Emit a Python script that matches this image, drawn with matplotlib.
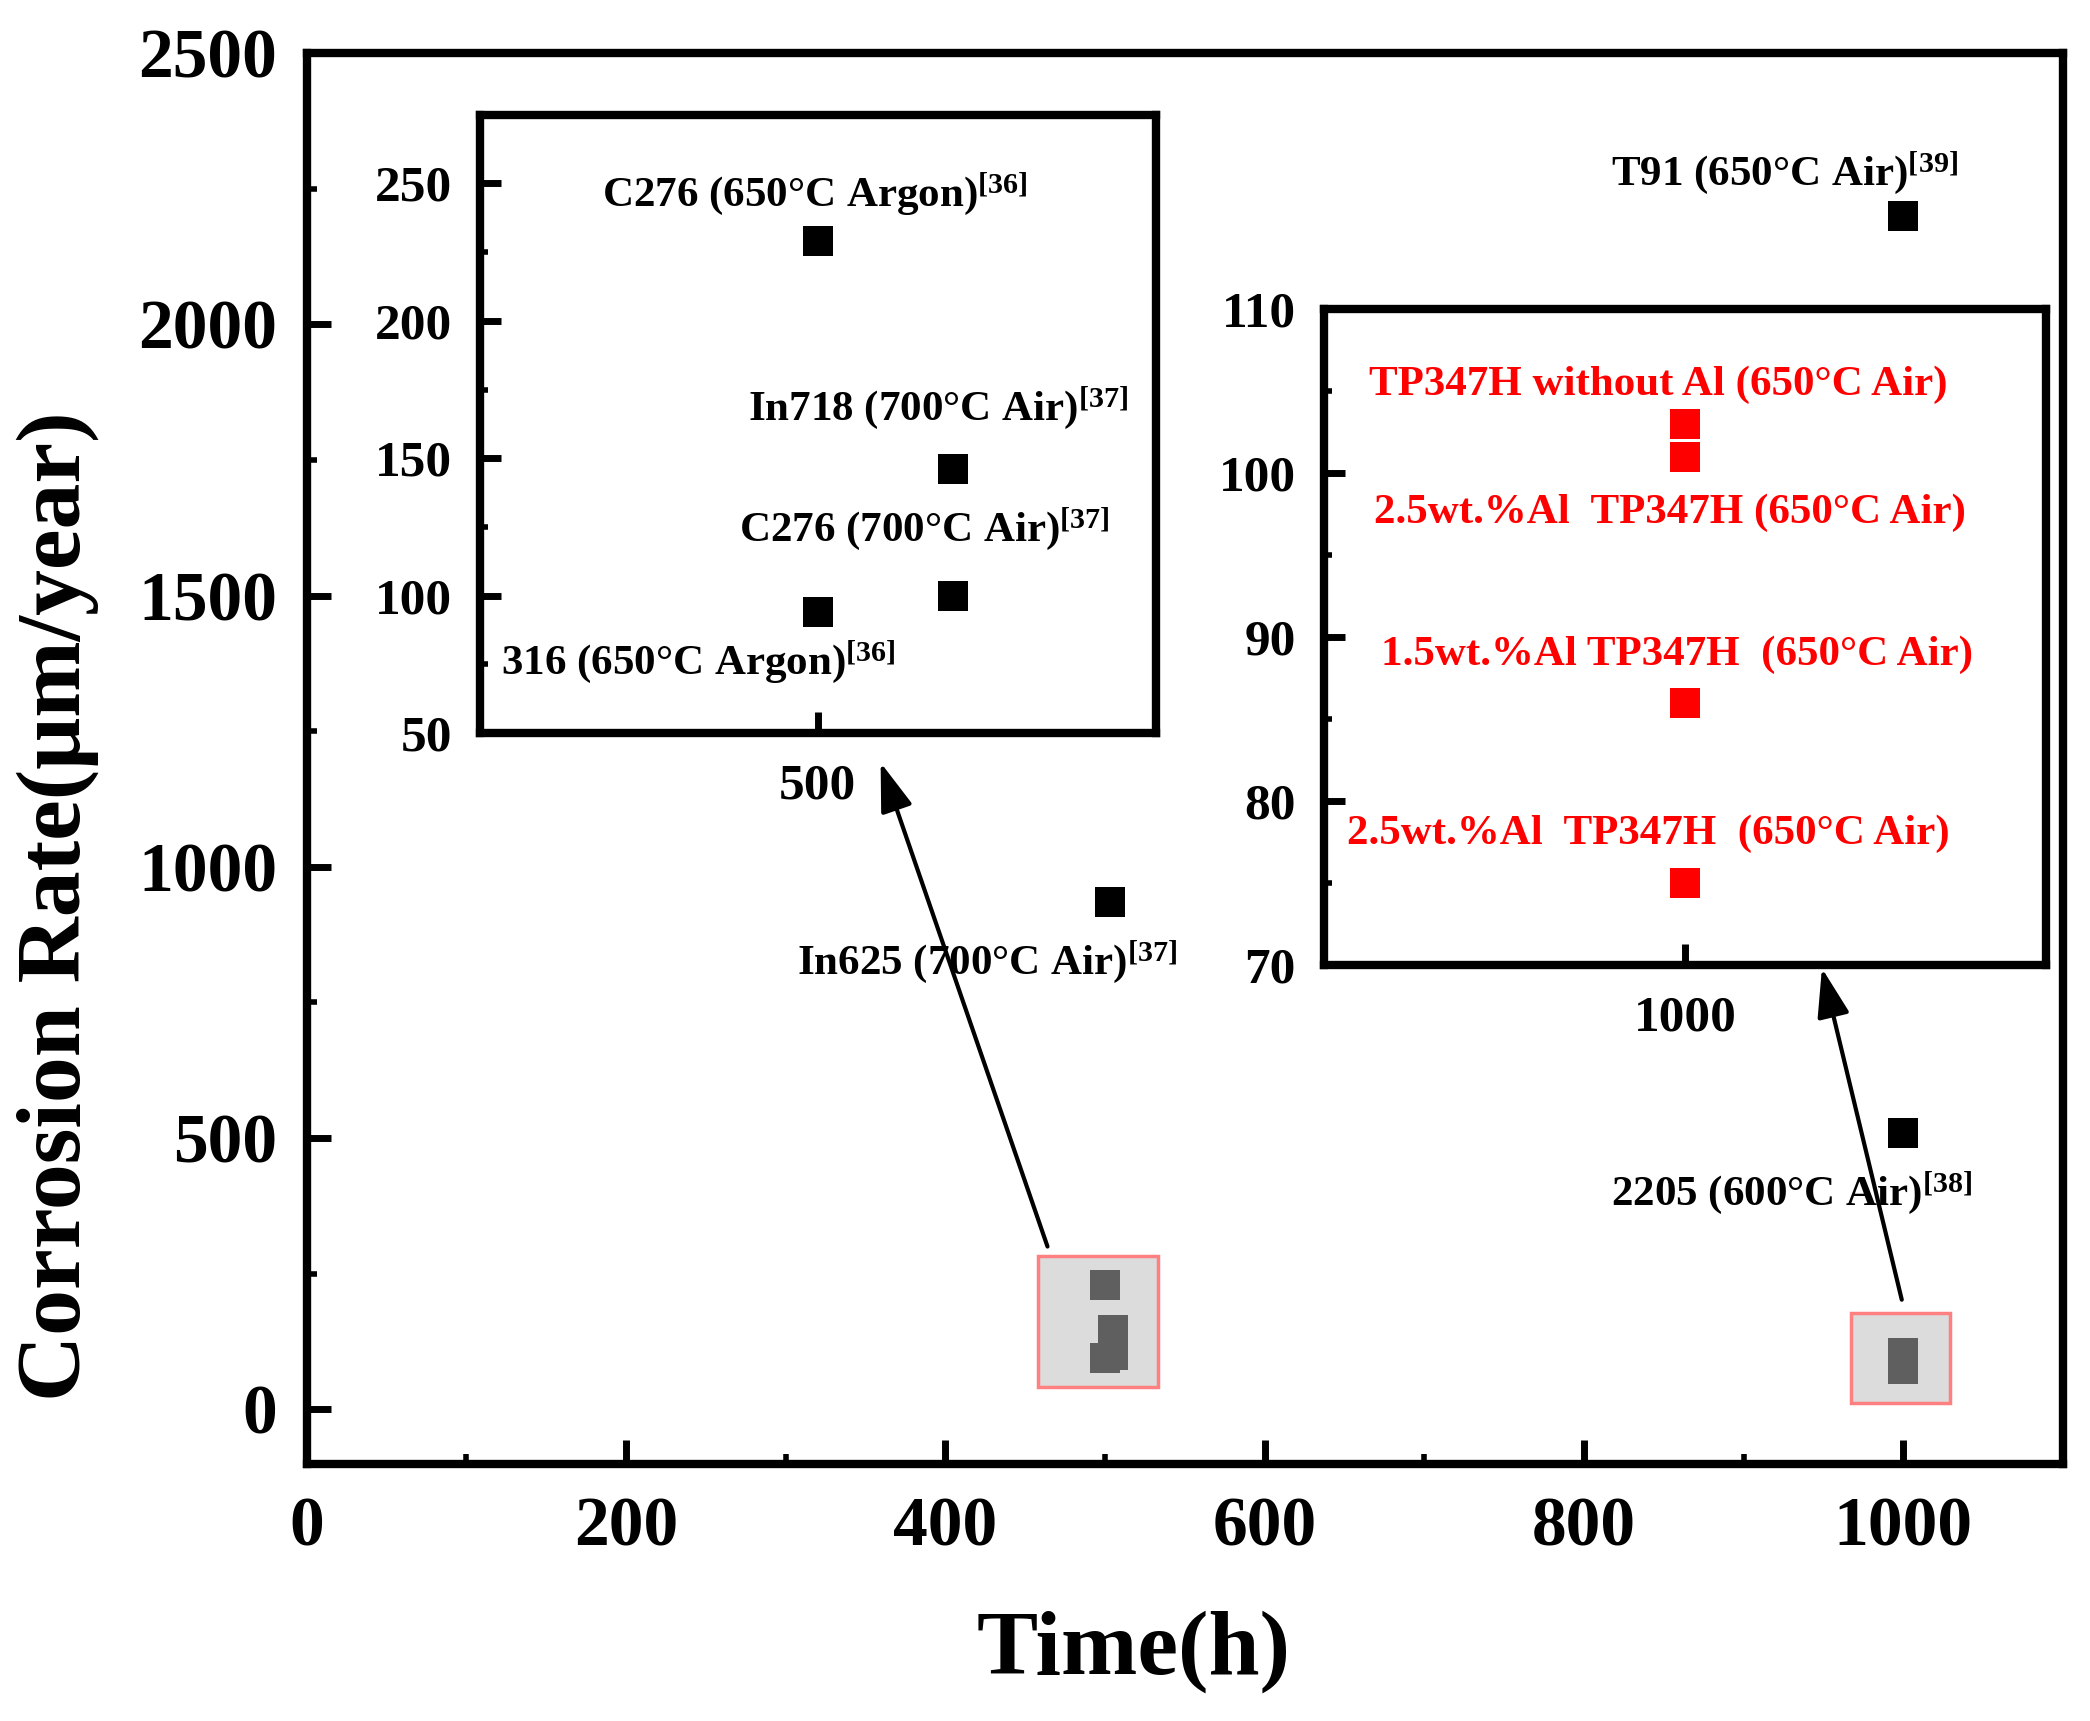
import matplotlib
matplotlib.use('Agg')
import matplotlib.pyplot as plt
from matplotlib.patches import Rectangle
from matplotlib.ticker import MultipleLocator, FixedLocator

plt.rcParams['font.family'] = ['Liberation Serif', 'DejaVu Serif']
plt.rcParams['font.weight'] = 'bold'
plt.rcParams['mathtext.fontset'] = 'custom'
plt.rcParams['mathtext.rm'] = 'Liberation Serif:bold'
plt.rcParams['mathtext.bf'] = 'Liberation Serif:bold'
plt.rcParams['mathtext.default'] = 'rm'

# main plot points
main_time = [1000, 503, 1000]
main_rate = [2200, 935, 510]
main_labels = ['T91 (650°C Air)$^{[39]}$', 'In625 (700°C Air)$^{[37]}$',
               '2205 (600°C Air)$^{[38]}$']

# left inset (around 500 h)
left_time = [500, 505, 505, 500]
left_rate = [229, 146, 100, 94]
left_labels = ['C276 (650°C Argon)$^{[36]}$', 'In718 (700°C Air)$^{[37]}$',
               'C276 (700°C Air)$^{[37]}$', '316 (650°C Argon)$^{[36]}$']

# right inset (1000 h)
right_time = [1000, 1000, 1000, 1000]
right_rate = [103, 101, 86, 75]
right_labels = ['TP347H without Al (650°C Air)', '2.5wt.%Al  TP347H (650°C Air)',
                '1.5wt.%Al TP347H  (650°C Air)', '2.5wt.%Al  TP347H  (650°C Air)']

# label anchor positions (left edge, vertical centre) in each axes' data units
main_pos = [(817, 2278), (307, 823), (817, 397)]
left_pos = [(492.0, 246.0), (497.4, 168.0), (497.1, 124.0), (488.3, 75.8)]
right_pos = [(991.25, 105.4), (991.4, 97.6), (991.6, 88.9), (990.66, 78.0)]

MS = 21.5
SPINE = 6


def style_axes(ax, labelsize, major_len, minor_len, pad):
    for s in ax.spines.values():
        s.set_linewidth(SPINE)
    ax.tick_params(which='major', direction='in', length=major_len, width=5,
                   labelsize=labelsize, pad=pad, top=False, right=False)
    ax.tick_params(which='minor', direction='in', length=minor_len, width=4,
                   top=False, right=False)


fig = plt.figure(figsize=(20.9, 17.21), dpi=100)

# ---- main axes ----
ax = fig.add_axes([0.1467, 0.1496, 0.8404, 0.8196])
ax.plot(main_time, main_rate, 's', color='black', ms=MS, mew=0, zorder=3)
for lab, (x, y) in zip(main_labels, main_pos):
    ax.text(x, y, lab, fontsize=31, ha='left', va='center', fontweight='bold')

# zoom indicator boxes with the inset points drawn grey
ax.add_patch(Rectangle((458, 42), 75, 241, facecolor='#dcdcdc', edgecolor='#ff8080',
                       lw=2.5, zorder=2))
ax.add_patch(Rectangle((967, 12), 62, 165, facecolor='#dcdcdc', edgecolor='#ff8080',
                       lw=2.5, zorder=2))
ax.plot(left_time, left_rate, 's', color='#5f5f5f', ms=MS, mew=0, zorder=3)
ax.plot(right_time, right_rate, 's', color='#5f5f5f', ms=MS, mew=0, zorder=3)

arrow = dict(arrowstyle='-|>,head_length=0.6,head_width=0.2', lw=3,
             color='black', mutation_scale=50, shrinkA=0, shrinkB=0)
ax.annotate('', xy=(359.5, 1192), xytext=(464, 300), arrowprops=arrow, zorder=4)
ax.annotate('', xy=(949, 813), xytext=(999, 202), arrowprops=arrow, zorder=4)

ax.set_xlim(0, 1100)
ax.set_ylim(-100, 2500)
ax.xaxis.set_major_locator(MultipleLocator(200))
ax.xaxis.set_minor_locator(MultipleLocator(100))
ax.yaxis.set_major_locator(MultipleLocator(500))
ax.yaxis.set_minor_locator(MultipleLocator(250))
style_axes(ax, 50, 17, 7, 21)
ax.tick_params(axis='x', which='major', pad=24)
ax.set_xlabel('Time(h)', fontsize=66, fontweight='bold')
ax.set_ylabel('Corrosion Rate(μm/year)', fontsize=66, fontweight='bold')
ax.xaxis.set_label_coords(0.471, -0.104)
ax.yaxis.set_label_coords(-0.118, 0.395)

# ---- left inset ----
ax1 = fig.add_axes([0.2296, 0.574, 0.3234, 0.3594])
ax1.plot(left_time, left_rate, 's', color='black', ms=MS, mew=0)
for lab, (x, y) in zip(left_labels, left_pos):
    ax1.text(x, y, lab, fontsize=31, ha='left', va='center', fontweight='bold')
ax1.set_xlim(487.5, 512.5)
ax1.set_ylim(50, 275)
ax1.xaxis.set_major_locator(FixedLocator([500]))
ax1.yaxis.set_major_locator(MultipleLocator(50))
ax1.yaxis.set_minor_locator(MultipleLocator(25))
style_axes(ax1, 37, 15, 6, 20)
ax1.tick_params(axis='x', which='major', pad=22)

# ---- right inset ----
ax2 = fig.add_axes([0.6333, 0.4393, 0.3457, 0.3811])
ax2.plot(right_time, right_rate, 's', color='red', ms=MS, mew=0)
for lab, (x, y) in zip(right_labels, right_pos):
    ax2.text(x, y, lab, fontsize=31, ha='left', va='center', color='red',
             fontweight='bold')
ax2.set_xlim(990, 1010)
ax2.set_ylim(70, 110)
ax2.xaxis.set_major_locator(FixedLocator([1000]))
ax2.yaxis.set_major_locator(MultipleLocator(10))
ax2.yaxis.set_minor_locator(MultipleLocator(5))
style_axes(ax2, 37, 15, 6, 20)
ax2.tick_params(axis='x', which='major', pad=22)

fig.savefig('out.png', dpi=100)
